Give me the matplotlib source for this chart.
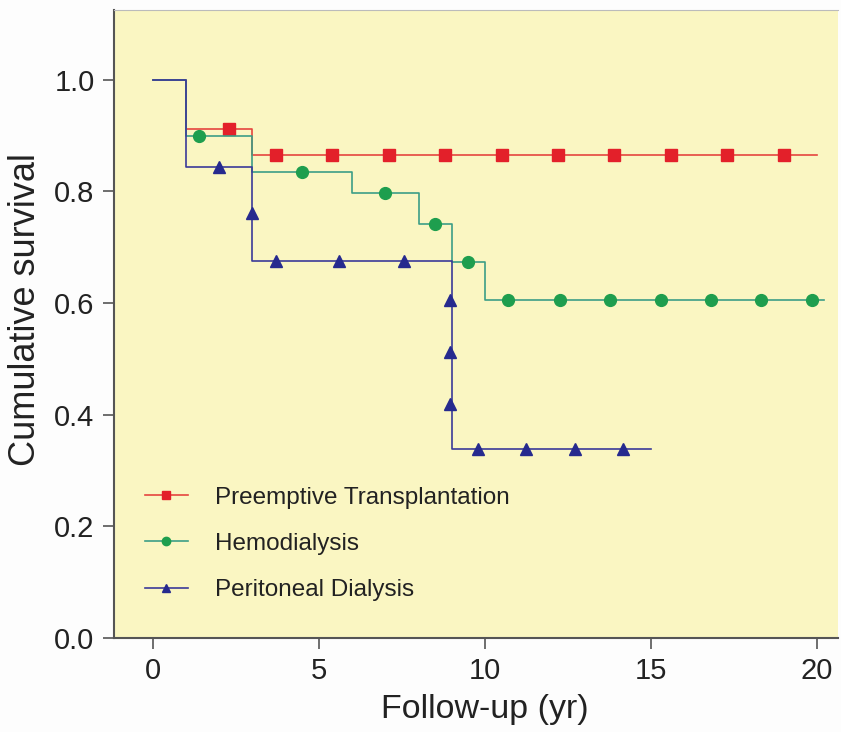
import matplotlib
matplotlib.use("Agg")
import matplotlib.pyplot as plt
from matplotlib.lines import Line2D

plt.rcParams["font.family"] = ["Liberation Sans", "DejaVu Sans"]

# Kaplan-Meier steps (time, survival) per group
pre_t = [0, 1, 3, 20]
pre_s = [1.0, 0.912, 0.866, 0.866]
hd_t = [0, 1, 3, 6, 8, 9, 10, 20.2]
hd_s = [1.0, 0.900, 0.834, 0.797, 0.741, 0.673, 0.606, 0.606]
pd_t = [0, 1, 3, 9, 15]
pd_s = [1.0, 0.843, 0.676, 0.338, 0.338]

# censor marks
pre_ct = [2.3, 3.7, 5.4, 7.1, 8.8, 10.5, 12.2, 13.9, 15.6, 17.3, 19.0]
pre_cs = [0.912, 0.866, 0.866, 0.866, 0.866, 0.866, 0.866, 0.866, 0.866, 0.866, 0.866]
hd_ct = [1.4, 4.5, 7.0, 8.5, 9.5, 10.7, 12.25, 13.75, 15.3, 16.8, 18.3, 19.85]
hd_cs = [0.900, 0.834, 0.797, 0.741, 0.673, 0.606, 0.606, 0.606, 0.606, 0.606, 0.606, 0.606]
pd_ct = [2.0, 3.0, 3.7, 5.6, 7.55, 8.95, 8.95, 8.95, 9.8, 11.25, 12.7, 14.15]
pd_cs = [0.843, 0.761, 0.676, 0.676, 0.676, 0.606, 0.513, 0.419, 0.338, 0.338, 0.338, 0.338]

groups = ["Preemptive Transplantation", "Hemodialysis", "Peritoneal Dialysis"]
LINE = {"pre": "#E5453F", "hd": "#3C9E86", "pd": "#3A3A98"}
MARK = {"pre": "#E3202A", "hd": "#1E9E4E", "pd": "#262A8E"}

fig = plt.figure(figsize=(8.41, 7.32), dpi=100, facecolor="#FDFDFD")
ax = fig.add_axes([114 / 841, 1 - 638 / 732, 724 / 841, 628 / 732])
ax.set_facecolor("#FAF6C2")

series = [("pre", pre_t, pre_s, pre_ct, pre_cs, "s", 8.5),
          ("hd", hd_t, hd_s, hd_ct, hd_cs, "o", 8.5),
          ("pd", pd_t, pd_s, pd_ct, pd_cs, "^", 9)]
handles = []
for (k, t, s, ct, cs, m, ms), name in zip(series, groups):
    ax.step(t, s, where="post", color=LINE[k], lw=1.2)
    ax.plot(ct, cs, ls="none", marker=m, ms=ms, color=MARK[k], mec=MARK[k])
    handles.append(Line2D([], [], color=LINE[k], lw=1.2, marker=m, ms=6,
                          mfc=MARK[k], mec=MARK[k], label=name))

ax.set_xlim(-1.17, 20.63)
ax.set_ylim(0, 1.125)
ax.set_xticks([0, 5, 10, 15, 20])
ax.set_yticks([0.0, 0.2, 0.4, 0.6, 0.8, 1.0])
ax.set_yticklabels([f"{v:.1f}" for v in ax.get_yticks()])
ax.tick_params(direction="out", length=8, width=1.2, color="#555555",
               labelsize=21, labelcolor="#222222", pad=6)

for sp in ("left", "bottom"):
    ax.spines[sp].set_color("#555555")
    ax.spines[sp].set_linewidth(1.5)
ax.spines["top"].set_color("#BBBBBB")
ax.spines["top"].set_linewidth(0.8)
ax.spines["right"].set_visible(False)

ax.set_xlabel("Follow-up (yr)", fontsize=24.5, color="#222222", labelpad=6)
ax.set_ylabel("Cumulative survival", fontsize=26, color="#222222", labelpad=8)
ax.xaxis.label.set_x(0.512)
ax.yaxis.label.set_y(0.523)

leg = ax.legend(handles=handles, loc="upper left", bbox_to_anchor=(0.0428, 0.241),
                borderaxespad=0, borderpad=0, frameon=False, fontsize=17.5,
                handlelength=1.75, handletextpad=1.15, labelspacing=1.0,
                labelcolor="#222222")

fig.savefig("out.png", dpi=100, facecolor=fig.get_facecolor())
